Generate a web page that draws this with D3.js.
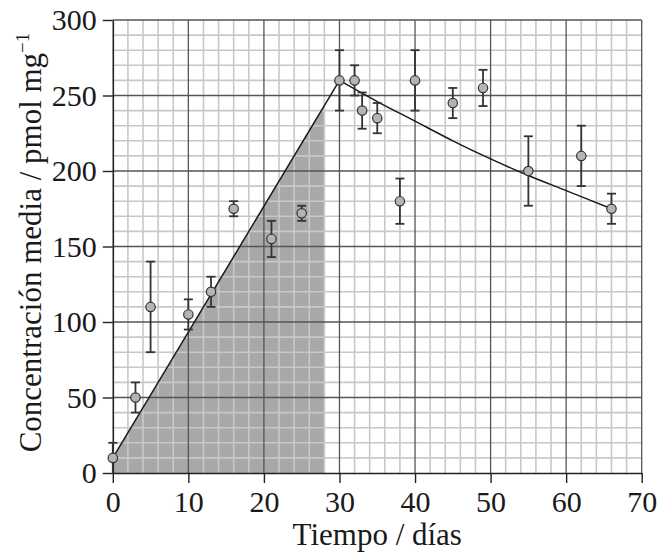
<!DOCTYPE html>
<html>
<head>
<meta charset="utf-8">
<script src="https://cdn.jsdelivr.net/npm/d3@7"></script>
<style>
  html, body { margin: 0; padding: 0; background: #fff; }
  svg { display: block; }
  svg text { font-family: "Liberation Serif", "Times New Roman", serif !important; fill: #1a1a1a; }
</style>
</head>
<body>
<svg id="chart" width="659" height="555"></svg>
<script>
// ---- data ----
const days        = [0, 3, 5, 10, 13, 16, 21, 25, 30, 32, 33, 35, 38, 40, 45, 49, 55, 62, 66];
const meanConc    = [10, 50, 110, 105, 120, 175, 155, 172, 260, 260, 240, 235, 180, 260, 245, 255, 200, 210, 175];
const errHigh     = [20, 60, 140, 115, 130, 180, 167, 177, 280, 270, 252, 245, 195, 280, 255, 267, 223, 230, 185];
const errLow      = [0, 40, 80, 95, 110, 170, 143, 167, 240, 250, 228, 225, 165, 240, 235, 243, 177, 190, 165];
const riseLine    = [[0, 10], [30, 260]];
const decayLine   = [[30, 260], [35, 246], [40, 233], [45, 220], [50, 208], [55, 197], [60, 187], [66, 175]];
const shadeEndDay = 28;
const xTicks      = [0, 10, 20, 30, 40, 50, 60, 70];
const yTicks      = [0, 50, 100, 150, 200, 250, 300];
const xLabel      = "Tiempo / días";
const yLabel      = "Concentración media / pmol mg";
const yLabelSup   = "−1";

// ---- layout ----
const svg = d3.select("#chart");
const L = 112.8, R = 641.7, T = 20, B = 473;
const x = d3.scaleLinear().domain([0, 70]).range([L, R]);
const y = d3.scaleLinear().domain([0, 300]).range([B, T]);
const SERIF = "'Liberation Serif', 'Times New Roman', serif";

svg.append("rect").attr("width", 659).attr("height", 555).attr("fill", "#fff");

// shaded area under rising line, up to day 28
svg.append("clipPath").attr("id", "shadeClip")
  .append("rect").attr("x", x(0)).attr("y", y(300))
  .attr("width", x(shadeEndDay) - x(0)).attr("height", y(0) - y(300));
svg.append("path")
  .datum(riseLine)
  .attr("clip-path", "url(#shadeClip)")
  .attr("fill", "#a8a8a8")
  .attr("d", d3.area().x(d => x(d[0])).y0(y(0)).y1(d => y(d[1])));

// minor grid
const g = svg.append("g");
g.selectAll("line.vmin").data(d3.range(2, 70, 2).filter(v => v % 10 !== 0)).join("line")
  .attr("x1", d => x(d)).attr("x2", d => x(d)).attr("y1", y(0)).attr("y2", y(300))
  .attr("stroke", "#c8c8c8").attr("stroke-width", 1.6);
g.selectAll("line.hmin").data(d3.range(10, 300, 10).filter(v => v % 50 !== 0)).join("line")
  .attr("y1", d => y(d)).attr("y2", d => y(d)).attr("x1", x(0)).attr("x2", x(70))
  .attr("stroke", "#c8c8c8").attr("stroke-width", 1.6);
// major grid
g.selectAll("line.vmaj").data(xTicks.filter(v => v > 0)).join("line")
  .attr("x1", d => x(d)).attr("x2", d => x(d)).attr("y1", y(0)).attr("y2", y(300))
  .attr("stroke", "#555").attr("stroke-width", 1.3);
g.selectAll("line.hmaj").data(yTicks.filter(v => v > 0)).join("line")
  .attr("y1", d => y(d)).attr("y2", d => y(d)).attr("x1", x(0)).attr("x2", x(70))
  .attr("stroke", "#555").attr("stroke-width", 1.3);

// axes
const xAxis = svg.append("g").attr("transform", `translate(0,${B})`)
  .call(d3.axisBottom(x).tickValues(xTicks).tickSize(10).tickPadding(8).tickSizeOuter(0));
const yAxis = svg.append("g").attr("transform", `translate(${L},0)`)
  .call(d3.axisLeft(y).tickValues(yTicks).tickSize(10).tickPadding(6).tickSizeOuter(0));
[xAxis, yAxis].forEach(a => {
  a.attr("font-family", null).attr("font-size", null);
  a.select(".domain").attr("stroke", "#222").attr("stroke-width", 1.6);
  a.selectAll(".tick line").attr("stroke", "#222").attr("stroke-width", 1.4);
  a.selectAll(".tick text").style("font-family", SERIF)
    .style("font-size", "30px").style("fill", "#1a1a1a");
});

// lines
const lineGen = d3.line().x(d => x(d[0])).y(d => y(d[1]));
svg.append("path").datum(riseLine).attr("d", lineGen)
  .attr("fill", "none").attr("stroke", "#1a1a1a").attr("stroke-width", 1.5);
svg.append("path").datum(decayLine).attr("d", lineGen.curve(d3.curveMonotoneX))
  .attr("fill", "none").attr("stroke", "#1a1a1a").attr("stroke-width", 1.5);

// error bars
const pts = days.map((d, i) => ({ d, v: meanConc[i], hi: errHigh[i], lo: errLow[i] }));
const eb = svg.append("g").attr("stroke", "#333").attr("stroke-width", 1.8);
eb.selectAll("line.v").data(pts).join("line")
  .attr("x1", p => x(p.d)).attr("x2", p => x(p.d)).attr("y1", p => y(p.hi)).attr("y2", p => y(p.lo));
eb.selectAll("line.t").data(pts).join("line")
  .attr("x1", p => x(p.d) - 4.5).attr("x2", p => x(p.d) + 4.5).attr("y1", p => y(p.hi)).attr("y2", p => y(p.hi));
eb.selectAll("line.b").data(pts.filter(p => p.lo > 0)).join("line")
  .attr("x1", p => x(p.d) - 4.5).attr("x2", p => x(p.d) + 4.5).attr("y1", p => y(p.lo)).attr("y2", p => y(p.lo));

// points
svg.append("g").selectAll("circle").data(pts).join("circle")
  .attr("cx", p => x(p.d)).attr("cy", p => y(p.v)).attr("r", 4.7)
  .attr("fill", "#b4b4b4").attr("stroke", "#333").attr("stroke-width", 1.2);

// axis titles
svg.append("text").attr("x", (L + R) / 2).attr("y", 545)
  .attr("text-anchor", "middle").style("font-size", "31px").text(xLabel);
const yt = svg.append("text")
  .attr("transform", `translate(41,${(T + B) / 2 - 4}) rotate(-90)`)
  .attr("text-anchor", "middle").style("font-size", "31px");
yt.append("tspan").text(yLabel);
yt.append("tspan").style("font-size", "19px").attr("dy", -12).text(yLabelSup);
</script>
</body>
</html>
